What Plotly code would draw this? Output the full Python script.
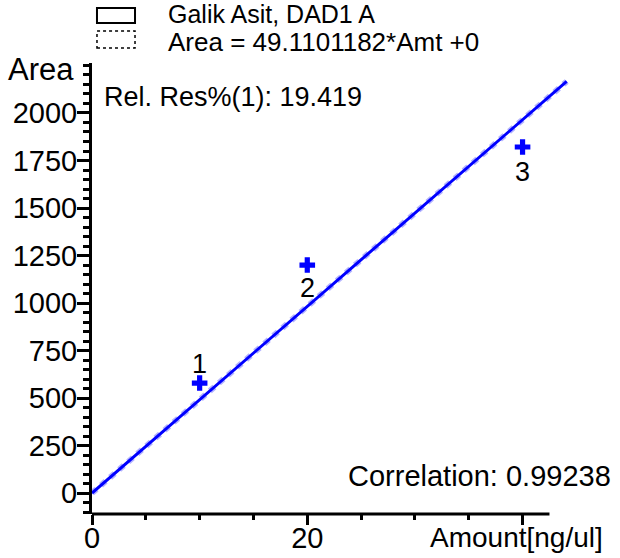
import plotly.graph_objects as go

# ---- data ----
amount = [10, 20, 40]
area = [579, 1200, 1821]
point_labels = ["1", "2", "3"]
label_shift = [19, -23, -25]
SLOPE = 49.1101182
line_x = [0, 44.1]
line_y = [SLOPE * v for v in line_x]
y_ticks = [0, 250, 500, 750, 1000, 1250, 1500, 1750, 2000]
x_ticks = [0, 20, 40]
x_ticktext = ["0", "20", ""]
title_text = "Galik Asit, DAD1 A"
equation_text = "Area = 49.1101182*Amt +0"
relres_text = "Rel. Res%(1): 19.419"
corr_text = "Correlation: 0.99238"

FONT = "Liberation Sans, Arial, sans-serif"

fig = go.Figure()
fig.add_trace(go.Scatter(x=line_x, y=line_y, mode="lines",
                         line=dict(color="#b4b4ff", width=6, dash="dot"),
                         hoverinfo="skip", showlegend=False))
fig.add_trace(go.Scatter(x=line_x, y=line_y, mode="lines",
                         line=dict(color="#0000ff", width=3),
                         showlegend=False))
fig.add_trace(go.Scatter(x=amount, y=area, mode="markers",
                         marker=dict(symbol="cross", size=13, color="#0000ff"),
                         cliponaxis=False, showlegend=False))

for xv, yv, lab, sh in zip(amount, area, point_labels, label_shift):
    fig.add_annotation(x=xv, y=yv, xref="x", yref="y", text=lab, showarrow=False,
                       yshift=sh, xanchor="center", yanchor="middle",
                       font=dict(family=FONT, size=27, color="black"))

fig.update_layout(
    width=620, height=558,
    margin=dict(l=92, r=49, t=63, b=44),
    paper_bgcolor="white", plot_bgcolor="white",
    font=dict(family=FONT, size=30, color="black"),
    showlegend=False,
)
fig.update_xaxes(range=[0, 44.5], tickvals=x_ticks, ticktext=x_ticktext,
                 ticks="outside", ticklen=10, tickwidth=3, tickcolor="black",
                 minor=dict(dtick=5, ticks="outside", ticklen=5, tickwidth=3, tickcolor="black"),
                 showgrid=False, zeroline=False, showline=False,
                 ticklabelstandoff=-12, automargin=False,
                 tickfont=dict(family=FONT, size=29, color="black"))
fig.update_yaxes(range=[-110, 2263], tickvals=y_ticks,
                 ticks="outside", ticklen=12, tickwidth=3, tickcolor="black",
                 minor=dict(dtick=50, ticks="outside", ticklen=6, tickwidth=3, tickcolor="black"),
                 showgrid=False, zeroline=False, showline=True, linewidth=3, linecolor="black",
                 ticklabelstandoff=-6, automargin=False,
                 tickfont=dict(family=FONT, size=29, color="black"))

# x-axis line (shorter than the plotting range)
fig.add_shape(type="line", xref="x", yref="paper", x0=0, x1=42.5, y0=0, y1=0,
              line=dict(color="black", width=3), layer="above")

# legend boxes
fig.add_shape(type="rect", xref="paper", yref="paper", x0=0.0104, x1=0.0898,
              y0=1.0887, y1=1.122, line=dict(color="black", width=2))
fig.add_shape(type="rect", xref="paper", yref="paper", x0=0.0104, x1=0.0898,
              y0=1.0333, y1=1.071, line=dict(color="black", width=1.5, dash="dot"))

def ann(text, x, y, xanchor, size=26):
    fig.add_annotation(text=text, xref="paper", yref="paper", x=x, y=y,
                       xanchor=xanchor, yanchor="middle", showarrow=False,
                       font=dict(family=FONT, size=size, color="black"))

ann(title_text, 0.1545, 1.1086, "left", 25)
ann(equation_text, 0.1545, 1.0466, "left", 26)
ann("Area", -0.0334, 0.9845, "right", 31)
ann(relres_text, 0.0209, 0.9246, "left", 27)
ann(corr_text, 1.0877, 0.0843, "right", 29)
ann("Amount[ng/ul]", 0.7015, -0.051, "left", 28)

fig.write_html("out.html")
